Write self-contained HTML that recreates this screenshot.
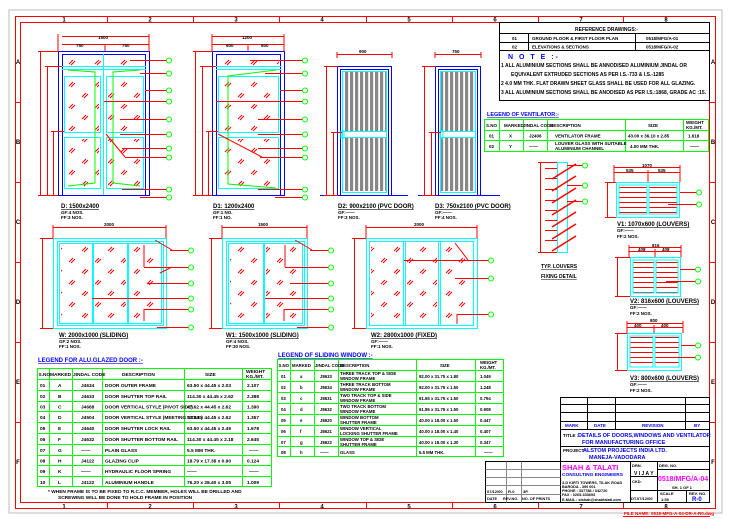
<!DOCTYPE html>
<html><head><meta charset="utf-8"><style>
html,body{margin:0;padding:0;background:#fff;width:732px;height:519px;overflow:hidden}
svg{display:block}
text{font-family:"Liberation Sans",sans-serif;font-weight:bold}
</style></head><body>
<svg width="732" height="519" viewBox="0 0 732 519" xmlns="http://www.w3.org/2000/svg">
<defs>
<pattern id="gl" patternUnits="userSpaceOnUse" width="26" height="22">
<path d="M4 9 L8 5 M6 10 L10 6" stroke="#f00" stroke-width="1"/>
<path d="M17 20 L21 16 M19 21 L23 17" stroke="#f00" stroke-width="1"/>
</pattern>
<pattern id="lv" patternUnits="userSpaceOnUse" width="5" height="10">
<rect x="0" y="0" width="3.2" height="10" fill="#888"/>
</pattern>
<pattern id="hl" patternUnits="userSpaceOnUse" width="10" height="5">
<rect x="0" y="2" width="10" height="1" fill="#f00"/>
</pattern>
</defs>

<rect x="9" y="10" width="713" height="503" fill="none" stroke="#bbb" stroke-width="1"/>
<rect x="15.5" y="16.5" width="700" height="492" fill="none" stroke="#f00" stroke-width="1"/>
<rect x="20.5" y="22.5" width="689" height="480" fill="none" stroke="#f00" stroke-width="1"/>
<g stroke="#f00" stroke-width="1">
<path d="M107.5 16V22 M193.5 16V22 M279.5 16V22 M366.5 16V22 M452.5 16V22 M538.5 16V22 M623.5 16V22"/>
<path d="M107.5 503V509 M193.5 503V509 M279.5 503V509 M366.5 503V509 M452.5 503V509 M538.5 503V509 M623.5 503V509"/>
<path d="M15 102.5H20 M15 182.5H20 M15 262.5H20 M15 342.5H20 M15 422.5H20"/>
<path d="M710 102.5H716 M710 182.5H716 M710 262.5H716 M710 342.5H716 M710 422.5H716"/>
</g>
<g font-size="6" fill="#000" text-anchor="middle">
<text x="64" y="21.5">1</text><text x="150" y="21.5">2</text><text x="236" y="21.5">3</text><text x="322" y="21.5">4</text><text x="409" y="21.5">5</text><text x="495" y="21.5">6</text><text x="581" y="21.5">7</text><text x="666" y="21.5">8</text>
<text x="64" y="508.5">1</text><text x="150" y="508.5">2</text><text x="236" y="508.5">3</text><text x="322" y="508.5">4</text><text x="409" y="508.5">5</text><text x="495" y="508.5">6</text><text x="581" y="508.5">7</text><text x="666" y="508.5">8</text>
<text x="18" y="64">A</text><text x="18" y="144">B</text><text x="18" y="224">C</text><text x="18" y="304">D</text><text x="18" y="384">E</text><text x="18" y="464">F</text>
<text x="713" y="64">A</text><text x="713" y="144">B</text><text x="713" y="224">C</text><text x="713" y="304">D</text><text x="713" y="384">E</text><text x="713" y="464">F</text>
</g>

<g stroke="#000" stroke-width="1" fill="none">
<rect x="499.5" y="22.5" width="210" height="78"/>
<path d="M499.5 33.5H709.5 M499.5 42.5H709.5 M499.5 50.5H709.5 M528.5 33.5V50.5 M635.5 33.5V50.5"/>
</g>
<g fill="#000" font-size="4.5">
<text x="575" y="31" font-size="5">REFERENCE DRAWINGS:-</text>
<text x="512" y="40">01</text><text x="532" y="40">GROUND FLOOR &amp; FIRST FLOOR PLAN</text><text x="646" y="40">0518/MFG/A-01</text>
<text x="512" y="48.5">02</text><text x="532" y="48.5">ELEVATIONS &amp; SECTIONS</text><text x="646" y="48.5">0518/MFG/A-02</text>
<text x="508" y="59" fill="#00f" font-size="7" letter-spacing="2">N O T E :-</text>
<text x="501" y="67" font-size="5">1   ALL ALUMINIUM SECTIONS SHALL BE ANNODISED ALUMINIUM JINDAL OR</text>
<text x="511" y="76" font-size="5">EQUIVALENT EXTRUDED SECTIONS AS PER I.S.-733 &amp; I.S.-1285</text>
<text x="501" y="85" font-size="5">2   4.0 MM THK. FLAT DRAWN SHEET GLASS SHALL BE USED FOR ALL GLAZING.</text>
<text x="501" y="94" font-size="5">3   ALL ALUMINIUM SECTIONS SHALL BE ANODISED AS PER I.S.:1868, GRADE AC :15.</text>
</g>

<text x="487" y="116" fill="#00f" font-size="5.5" text-decoration="underline">LEGEND OF VENTILATOR:-</text>
<g stroke="#0f0" stroke-width="1" fill="none">
<rect x="484.5" y="119.5" width="224" height="32"/>
<path d="M484.5 130.5H708.5 M484.5 140.5H708.5 M499.5 119.5V151.5 M523.5 119.5V151.5 M547.5 119.5V151.5 M625.5 119.5V151.5 M683.5 119.5V151.5"/>
</g>
<g fill="#000" font-size="4.5">
<text x="486" y="127">S.NO</text><text x="504" y="127">MARKED</text><text x="523" y="127">JINDAL CODE</text><text x="550" y="127">DESCRIPTION</text><text x="648" y="127">SIZE</text><text x="686" y="124">WEIGHT</text><text x="686" y="129">KG./MT.</text>
<text x="489" y="137.5">01</text><text x="509" y="137.5">X</text><text x="529" y="137.5">J2406</text><text x="555" y="137.5">VENTILATOR FRAME</text><text x="628" y="137.5">43.00 x 36.10 x 2.85</text><text x="688" y="137.5">1.618</text>
<text x="489" y="148">02</text><text x="509" y="148">Y</text><text x="529" y="148">——</text><text x="555" y="145">LOUVER GLASS WITH SUITABLE</text><text x="555" y="150">ALUMINIUM CHANNEL</text><text x="630" y="148">4.00 MM THK.</text><text x="690" y="148">——</text>
</g>

<!-- DOOR D -->
<g fill="none" stroke-width="1">
<rect x="58.5" y="51.5" width="91" height="144" stroke="#00f"/>
<rect x="62.5" y="54.5" width="83" height="141" stroke="#00f"/>
<path d="M62 66.5H146 M62 69.5H146 M103.5 54V195" stroke="#0ff"/>
<rect x="64.5" y="76.5" width="36" height="56" stroke="#0ff"/>
<rect x="64.5" y="137.5" width="36" height="51" stroke="#0ff"/>
<rect x="106.5" y="76.5" width="37" height="56" stroke="#0ff"/>
<rect x="106.5" y="137.5" width="37" height="51" stroke="#0ff"/>
<rect x="64" y="56" width="80" height="10" fill="url(#gl)" stroke="none"/>
<rect x="66" y="78" width="33" height="53" fill="url(#gl)" stroke="none"/>
<rect x="66" y="139" width="33" height="48" fill="url(#gl)" stroke="none"/>
<rect x="108" y="78" width="34" height="53" fill="url(#gl)" stroke="none"/>
<rect x="108" y="139" width="34" height="48" fill="url(#gl)" stroke="none"/>
<path d="M68 70 L95 72 L95 183 L68 186 M140 70 L113 72 L113 183 L140 186" stroke="#0f0"/>
<path d="M62 36.5H149 M62 44.5H149 M105 44V51 M58 34V52 M149 34V52" stroke="#f00"/>
<path d="M40.5 51V195 M47.5 66V195 M53.5 131V195 M38 51.5H58 M45 66.5H62 M51 131.5H64 M38 195.5H58" stroke="#f00"/>
<path d="M130 60.5H167 M140 73.5H167 M145 90.5H167 M104 101.5H167 M120 119.5H167 M120 134.5H167 M122 148.5H167 M125 157.5H167 M122 189.5H167 M140 197.5H167 M106 134 L125 157" stroke="#f00"/>
</g>
<g fill="#fff" stroke="#0f0" stroke-width="1">
<circle cx="169" cy="60.5" r="2.5"/><circle cx="169" cy="73.5" r="2.5"/><circle cx="169" cy="90.5" r="2.5"/><circle cx="169" cy="101.5" r="2.5"/><circle cx="169" cy="119.5" r="2.5"/><circle cx="169" cy="134.5" r="2.5"/><circle cx="169" cy="148.5" r="2.5"/><circle cx="169" cy="157.5" r="2.5"/><circle cx="169" cy="189.5" r="2.5"/><circle cx="169" cy="197.5" r="2.5"/>
</g>
<g font-size="4.5" fill="#000">
<text x="98" y="39">1500</text><text x="76" y="47">750</text><text x="122" y="47">750</text>
<text x="61" y="208" font-size="6" text-decoration="underline">D: 1500x2400</text>
<text x="61" y="214">GF:4 NOS.</text><text x="61" y="219">FF:3 NOS.</text>
</g>

<!-- DOOR D1 -->
<g fill="none" stroke-width="1">
<rect x="212.5" y="51.5" width="72" height="144" stroke="#00f"/>
<rect x="216.5" y="54.5" width="64" height="141" stroke="#00f"/>
<path d="M216 66.5H281 M216 69.5H281" stroke="#0ff"/>
<rect x="218.5" y="76.5" width="60" height="56" stroke="#0ff"/>
<rect x="218.5" y="137.5" width="60" height="51" stroke="#0ff"/>
<rect x="218" y="56" width="61" height="10" fill="url(#gl)" stroke="none"/>
<rect x="220" y="78" width="57" height="53" fill="url(#gl)" stroke="none"/>
<rect x="220" y="139" width="57" height="48" fill="url(#gl)" stroke="none"/>
<path d="M276 70 L228 76 L228 184 L276 188" stroke="#0f0"/>
<path d="M212 36.5H284 M212 44.5H284 M248 44V51 M212 34V52 M284 34V52" stroke="#f00"/>
<path d="M195.5 51V195 M202.5 66V195 M208.5 131V195 M193 51.5H212 M200 66.5H216 M206 131.5H218 M193 195.5H212" stroke="#f00"/>
<path d="M250 60.5H304 M265 73.5H304 M280 90.5H304 M216 101.5H304 M258 119.5H304 M258 134.5H304 M258 148.5H304 M260 157.5H304 M258 189.5H304 M275 197.5H304 M218 134 L262 157" stroke="#f00"/>
</g>
<g fill="#fff" stroke="#0f0" stroke-width="1">
<circle cx="305" cy="60.5" r="2.5"/><circle cx="305" cy="73.5" r="2.5"/><circle cx="305" cy="90.5" r="2.5"/><circle cx="305" cy="101.5" r="2.5"/><circle cx="305" cy="119.5" r="2.5"/><circle cx="305" cy="134.5" r="2.5"/><circle cx="305" cy="148.5" r="2.5"/><circle cx="305" cy="157.5" r="2.5"/><circle cx="305" cy="189.5" r="2.5"/><circle cx="305" cy="197.5" r="2.5"/>
</g>
<g font-size="4.5" fill="#000">
<text x="242" y="39">1200</text><text x="226" y="47">600</text><text x="261" y="47">600</text>
<text x="213" y="208" font-size="6" text-decoration="underline">D1: 1200x2400</text>
<text x="213" y="214">GF:1 NO.</text><text x="213" y="219">FF:1 NO.</text>
</g>

<!-- DOOR D2 PVC -->
<g fill="none" stroke-width="1">
<path d="M320 195.5H408" stroke="#00f"/>
<rect x="337.5" y="66.5" width="54" height="129" stroke="#00f"/>
<rect x="340.5" y="69.5" width="48" height="126" stroke="#00f"/>
<rect x="343" y="72" width="43" height="59" fill="url(#lv)" stroke="none"/>
<rect x="343" y="138" width="43" height="53" fill="url(#lv)" stroke="none"/>
<rect x="342.5" y="71.5" width="44" height="121" stroke="#0ff"/>
<path d="M342 131.5H387 M342 137.5H387" stroke="#0ff"/>
<rect x="341" y="131" width="3" height="7" stroke="#0ff"/>
<path d="M337 54.5H392 M337 52V58 M392 52V58" stroke="#f00"/>
<path d="M326.5 66V195 M333.5 132V195 M324 66.5H338 M331 132.5H342 M324 195.5H338" stroke="#f00"/>
</g>
<g font-size="4.5" fill="#000">
<text x="359" y="53">900</text>
<text x="338" y="208" font-size="6" text-decoration="underline">D2: 900x2100 (PVC DOOR)</text>
<text x="338" y="214">GF:——</text><text x="338" y="219">FF:3 NOS.</text>
</g>

<!-- DOOR D3 PVC -->
<g fill="none" stroke-width="1">
<path d="M418 195.5H500" stroke="#00f"/>
<rect x="435.5" y="66.5" width="45" height="129" stroke="#00f"/>
<rect x="438.5" y="69.5" width="39" height="126" stroke="#00f"/>
<rect x="441" y="72" width="34" height="59" fill="url(#lv)" stroke="none"/>
<rect x="441" y="138" width="34" height="53" fill="url(#lv)" stroke="none"/>
<rect x="440.5" y="71.5" width="35" height="121" stroke="#0ff"/>
<path d="M440 131.5H476 M440 137.5H476" stroke="#0ff"/>
<rect x="440" y="131" width="3" height="7" stroke="#0ff"/>
<path d="M435 54.5H481 M435 52V58 M481 52V58" stroke="#f00"/>
<path d="M424.5 66V195 M431.5 132V195 M422 66.5H436 M429 132.5H441 M422 195.5H436" stroke="#f00"/>
</g>
<g font-size="4.5" fill="#000">
<text x="452" y="53">750</text>
<text x="435" y="208" font-size="6" text-decoration="underline">D3: 750x2100 (PVC DOOR)</text>
<text x="435" y="214">GF:——</text><text x="435" y="219">FF:4 NOS.</text>
</g>

<!-- Windows -->
<g fill="none" stroke-width="1">
<rect x="53.5" y="238.5" width="113" height="90" stroke="#0ff"/>
<rect x="57.5" y="241.5" width="106" height="84" stroke="#0ff"/>
<rect x="59.5" y="243.5" width="33" height="80" stroke="#0ff"/>
<rect x="93.5" y="243.5" width="34" height="80" stroke="#0ff"/>
<rect x="128.5" y="243.5" width="33" height="80" stroke="#0ff"/>
<rect x="61" y="245" width="30" height="77" fill="url(#gl)" stroke="none"/>
<rect x="95" y="245" width="31" height="77" fill="url(#gl)" stroke="none"/>
<rect x="130" y="245" width="30" height="77" fill="url(#gl)" stroke="none"/>
<path d="M53 227.5H166 M53 225V238 M166 225V238 M42.5 238V328 M40 238.5H53 M40 328.5H53" stroke="#f00"/>
<path d="M170 250.5H190 M144 245V267 M144 267.5H190 M148 283.5H190 M92 298.5H190 M144 309.5H190 M144 309V321 M157 327.5H190 M155 240 L172 250 M160 273 L172 267" stroke="#f00"/>
</g>
<g fill="#fff" stroke="#0f0"><circle cx="191" cy="250.5" r="2.5"/><circle cx="191" cy="267.5" r="2.5"/><circle cx="191" cy="283.5" r="2.5"/><circle cx="191" cy="298.5" r="2.5"/><circle cx="191" cy="309.5" r="2.5"/><circle cx="191" cy="327.5" r="2.5"/></g>
<g font-size="4.5" fill="#000">
<text x="104" y="226">2000</text>
<text x="59" y="337" font-size="6" text-decoration="underline">W: 2000x1000 (SLIDING)</text>
<text x="59" y="343">GF:2 NOS.</text><text x="59" y="348">FF:1 NOS.</text>
</g>

<g fill="none" stroke-width="1">
<rect x="222.5" y="238.5" width="85" height="90" stroke="#0ff"/>
<rect x="226.5" y="241.5" width="78" height="84" stroke="#0ff"/>
<rect x="228.5" y="243.5" width="35" height="80" stroke="#0ff"/>
<rect x="264.5" y="243.5" width="38" height="80" stroke="#0ff"/>
<rect x="230" y="245" width="32" height="77" fill="url(#gl)" stroke="none"/>
<rect x="266" y="245" width="35" height="77" fill="url(#gl)" stroke="none"/>
<path d="M222 227.5H307 M222 225V238 M307 225V238 M211.5 238V328 M209 238.5H222 M209 328.5H222" stroke="#f00"/>
<path d="M310 250.5H330 M285 245V267 M285 267.5H330 M290 283.5H330 M265 298.5H330 M284 309.5H330 M284 309V321 M297 327.5H330 M295 240 L312 250" stroke="#f00"/>
</g>
<g fill="#fff" stroke="#0f0"><circle cx="331" cy="250.5" r="2.5"/><circle cx="331" cy="267.5" r="2.5"/><circle cx="331" cy="283.5" r="2.5"/><circle cx="331" cy="298.5" r="2.5"/><circle cx="331" cy="309.5" r="2.5"/><circle cx="331" cy="327.5" r="2.5"/></g>
<g font-size="4.5" fill="#000">
<text x="258" y="226">1500</text>
<text x="226" y="337" font-size="6" text-decoration="underline">W1: 1500x1000 (SLIDING)</text>
<text x="226" y="343">GF:4 NOS.</text><text x="226" y="348">FF:30 NOS.</text>
</g>

<g fill="none" stroke-width="1">
<rect x="366.5" y="238.5" width="111" height="90" stroke="#0ff"/>
<rect x="369.5" y="241.5" width="104" height="84" stroke="#0ff"/>
<path d="M403.5 241V325 M405.5 241V325 M438.5 241V325 M440.5 241V325" stroke="#0ff"/>
<rect x="371" y="243" width="31" height="81" fill="url(#gl)" stroke="none"/>
<rect x="407" y="243" width="30" height="81" fill="url(#gl)" stroke="none"/>
<rect x="442" y="243" width="30" height="81" fill="url(#gl)" stroke="none"/>
<path d="M366 227.5H477 M366 225V238 M477 225V238 M354.5 238V328 M352 238.5H366 M352 328.5H366" stroke="#f00"/>
<path d="M404 260.5H490 M455 278.5H490 M457 314.5H490 M457 314V324 M455 243 L468 260" stroke="#f00"/>
</g>
<g fill="#fff" stroke="#0f0"><circle cx="491" cy="260.5" r="2.5"/><circle cx="491" cy="278.5" r="2.5"/><circle cx="491" cy="314.5" r="2.5"/></g>
<g font-size="4.5" fill="#000">
<text x="414" y="226">2000</text>
<text x="371" y="337" font-size="6" text-decoration="underline">W2: 2800x1000 (FIXED)</text>
<text x="371" y="343">GF:——</text><text x="371" y="348">FF:1 NOS.</text>
</g>

<!-- louver fixing detail -->
<g fill="none" stroke-width="1">
<rect x="557.5" y="162.5" width="10" height="90" stroke="#0ff"/>
<path d="M540.5 162V252 M538 162.5H557 M538 252.5H557" stroke="#f00"/>
<path d="M545 170L569 155 M545 182L569 167 M545 194L569 179 M545 206L569 191 M545 218L569 203 M545 230L569 215 M545 242L569 227" stroke="#f00" stroke-width="1.6" transform="translate(7,9)"/>
<path d="M545 168.5H557 M545 178.5H557 M545 189.5H557 M545 200.5H557 M545 210.5H557 M545 220.5H557 M545 230.5H557 M545 240.5H557" stroke="#f00"/>
<path d="M567 165.5H583 M567 185.5H583 M567 201.5H583" stroke="#f00"/>
</g>
<g fill="#fff" stroke="#0f0"><circle cx="585" cy="165.5" r="2.5"/><circle cx="585" cy="185.5" r="2.5"/><circle cx="585" cy="201.5" r="2.5"/></g>
<g font-size="5" fill="#000"><text x="541" y="268" text-decoration="underline">TYP. LOUVERS</text><text x="541" y="278" text-decoration="underline">FIXING DETAIL</text></g>

<!-- V1 -->
<g fill="none" stroke-width="1">
<rect x="616.5" y="182.5" width="63" height="35" stroke="#0ff"/>
<rect x="619" y="185" width="28" height="29" fill="url(#hl)" stroke="#0ff"/>
<rect x="649" y="185" width="28" height="29" fill="url(#hl)" stroke="#0ff"/>
<path d="M614 167.5H680 M614 172.5H680 M648 170V182 M614 165V182 M680 165V182 M607.5 182V217 M605 182.5H616 M605 217.5H616" stroke="#f00"/>
<path d="M680 192.5H698 M668 204.5H698" stroke="#f00"/>
</g>
<g fill="#fff" stroke="#0f0"><circle cx="699" cy="192.5" r="2.5"/><circle cx="699" cy="204.5" r="2.5"/></g>
<g font-size="4.5" fill="#000"><text x="642" y="167">1070</text><text x="626" y="172">535</text><text x="658" y="172">535</text>
<text x="617" y="226" font-size="6" text-decoration="underline">V1: 1070x600 (LOUVERS)</text><text x="617" y="232">GF:——</text><text x="617" y="238">FF:2 NOS.</text></g>

<!-- V2 -->
<g fill="none" stroke-width="1">
<rect x="630.5" y="257.5" width="50" height="39" stroke="#0ff"/>
<rect x="633" y="260" width="21" height="33" fill="url(#hl)" stroke="#0ff"/>
<rect x="656" y="260" width="22" height="33" fill="url(#hl)" stroke="#0ff"/>
<path d="M629 247.5H681 M629 251.5H681 M655 249V257 M629 245V257 M681 245V257 M617.5 257V296 M615 257.5H630 M615 296.5H630" stroke="#f00"/>
<path d="M680 269.5H697 M666 281.5H697" stroke="#f00"/>
</g>
<g fill="#fff" stroke="#0f0"><circle cx="698" cy="269.5" r="2.5"/><circle cx="698" cy="281.5" r="2.5"/></g>
<g font-size="4.5" fill="#000"><text x="652" y="247">816</text><text x="638" y="251">408</text><text x="662" y="251">408</text>
<text x="630" y="303" font-size="6" text-decoration="underline">V2: 816x600 (LOUVERS)</text><text x="630" y="309">GF:——</text><text x="630" y="315">FF:2 NOS.</text></g>

<!-- V3 -->
<g fill="none" stroke-width="1">
<rect x="627.5" y="333.5" width="54" height="37" stroke="#0ff"/>
<rect x="630" y="336" width="23" height="31" fill="url(#hl)" stroke="#0ff"/>
<rect x="655" y="336" width="24" height="31" fill="url(#hl)" stroke="#0ff"/>
<path d="M627 323.5H683 M627 327.5H683 M654 325V333 M627 321V333 M683 321V333 M617.5 333V370 M615 333.5H627 M615 370.5H627" stroke="#f00"/>
<path d="M681 345.5H697 M668 357.5H697" stroke="#f00"/>
</g>
<g fill="#fff" stroke="#0f0"><circle cx="698" cy="345.5" r="2.5"/><circle cx="698" cy="357.5" r="2.5"/></g>
<g font-size="4.5" fill="#000"><text x="650" y="322">800</text><text x="634" y="327">400</text><text x="661" y="327">400</text>
<text x="630" y="380" font-size="6" text-decoration="underline">V3: 800x600 (LOUVERS)</text><text x="630" y="386">GF:——</text><text x="630" y="392">FF:2 NOS.</text></g>

<!-- Alu door legend -->
<text x="38" y="362" fill="#00f" font-size="6" text-decoration="underline">LEGEND FOR ALU.GLAZED DOOR :-</text>
<g stroke="#0f0" stroke-width="1" fill="none">
<rect x="37.5" y="368.5" width="234" height="118"/>
<path d="M37.5 379.5H271.5 M37.5 390.5H271.5 M37.5 401.5H271.5 M37.5 411.5H271.5 M37.5 422.5H271.5 M37.5 433.5H271.5 M37.5 444.5H271.5 M37.5 455.5H271.5 M37.5 465.5H271.5 M37.5 476.5H271.5"/>
<path d="M49.5 368.5V486.5 M72.5 368.5V486.5 M102.5 368.5V486.5 M184.5 368.5V486.5 M242.5 368.5V486.5"/>
</g>
<g fill="#000" font-size="4.8">
<text x="38.5" y="376">S.NO</text><text x="50" y="376">MARKED</text><text x="73" y="376">JINDAL CODE</text><text x="122" y="376">DESCRIPTION</text><text x="205" y="376">SIZE</text><text x="246" y="373">WEIGHT</text><text x="246" y="378">KG./MT.</text>
<text x="40" y="387">01</text><text x="58" y="387">A</text><text x="81" y="387">J4634</text><text x="105" y="387">DOOR OUTER FRAME</text><text x="187" y="387">63.50 x 44.45 x 2.03</text><text x="247" y="387">2.107</text>
<text x="40" y="398">02</text><text x="58" y="398">B</text><text x="81" y="398">J4633</text><text x="105" y="398">DOOR SHUTTER TOP RAIL</text><text x="187" y="398">114.30 x 44.45 x 2.62</text><text x="247" y="398">2.388</text>
<text x="40" y="408.5">03</text><text x="58" y="408.5">C</text><text x="81" y="408.5">J4668</text><text x="105" y="408.5">DOOR VERTICAL STYLE (PIVOT SIDE)</text><text x="187" y="408.5">47.62 x 44.45 x 2.62</text><text x="247" y="408.5">1.390</text>
<text x="40" y="419">04</text><text x="58" y="419">D</text><text x="81" y="419">J4504</text><text x="105" y="419">DOOR VERTICAL STYLE (MEETING STILE)</text><text x="187" y="419">53.98 x 44.45 x 2.62</text><text x="247" y="419">1.357</text>
<text x="40" y="430">05</text><text x="58" y="430">E</text><text x="81" y="430">J4640</text><text x="105" y="430">DOOR SHUTTER LOCK RAIL</text><text x="187" y="430">63.50 x 44.45 x 2.49</text><text x="247" y="430">1.678</text>
<text x="40" y="441">06</text><text x="58" y="441">F</text><text x="81" y="441">J4632</text><text x="105" y="441">DOOR SHUTTER BOTTOM RAIL</text><text x="187" y="441">114.30 x 44.45 x 2.18</text><text x="247" y="441">2.645</text>
<text x="40" y="452">07</text><text x="58" y="452">G</text><text x="81" y="452">——</text><text x="105" y="452">PLAIN GLASS</text><text x="187" y="452">5.5 MM THK.</text><text x="249" y="452">——</text>
<text x="40" y="462.5">08</text><text x="58" y="462.5">H</text><text x="81" y="462.5">J4122</text><text x="105" y="462.5">GLAZING CLIP</text><text x="187" y="462.5">18.79 x 17.38 x 0.90</text><text x="247" y="462.5">0.124</text>
<text x="40" y="473">09</text><text x="58" y="473">K</text><text x="81" y="473">——</text><text x="105" y="473">HYDRAULIC FLOOR SPRING</text><text x="187" y="473">——</text><text x="249" y="473">——</text>
<text x="40" y="484">10</text><text x="58" y="484">L</text><text x="81" y="484">J4122</text><text x="105" y="484">ALUMINIUM HANDLE</text><text x="187" y="484">76.20 x 28.40 x 3.05</text><text x="247" y="484">1.009</text>
<text x="48" y="493">* WHEN FRAME IS TO BE FIXED TO R.C.C. MEMBER, HOLES WILL BE DRILLED AND</text>
<text x="58" y="499">SCREWING WILL BE DONE TO HOLD FRAME IN POSITION</text>
</g>

<!-- Sliding window legend -->
<text x="278" y="357" fill="#00f" font-size="6" text-decoration="underline">LEGEND OF SLIDING WINDOW :-</text>
<g stroke="#0f0" stroke-width="1" fill="none">
<rect x="277.5" y="359.5" width="226" height="97"/>
<path d="M277.5 370.5H503.5 M277.5 381.5H503.5 M277.5 392.5H503.5 M277.5 403.5H503.5 M277.5 414.5H503.5 M277.5 425.5H503.5 M277.5 436.5H503.5 M277.5 446.5H503.5"/>
<path d="M290.5 359.5V456.5 M314.5 359.5V456.5 M338.5 359.5V456.5 M416.5 359.5V456.5 M475.5 359.5V456.5"/>
</g>
<g fill="#000" font-size="4.3">
<text x="278.5" y="367">S.NO</text><text x="292" y="367">MARKED</text><text x="315" y="367">JINDAL CODE</text><text x="340" y="367">DESCRIPTION</text><text x="440" y="367">SIZE</text><text x="480" y="364">WEIGHT</text><text x="480" y="369">KG./MT.</text>
<text x="281" y="378">01</text><text x="300" y="378">a</text><text x="320" y="378">J8633</text><text x="340" y="375">THREE TRACK TOP &amp; SIDE</text><text x="340" y="380">WINDOW FRAME</text><text x="419" y="378">92.00 x 31.75 x 1.80</text><text x="480" y="378">1.049</text>
<text x="281" y="389">02</text><text x="300" y="389">b</text><text x="320" y="389">J8634</text><text x="340" y="386">THREE TRACK BOTTOM</text><text x="340" y="391">WINDOW FRAME</text><text x="419" y="389">92.00 x 31.75 x 1.50</text><text x="480" y="389">1.248</text>
<text x="281" y="400">03</text><text x="300" y="400">c</text><text x="320" y="400">J8631</text><text x="340" y="397">TWO TRACK TOP &amp; SIDE</text><text x="340" y="402">WINDOW FRAME</text><text x="419" y="400">61.65 x 31.75 x 1.50</text><text x="480" y="400">0.794</text>
<text x="281" y="411">04</text><text x="300" y="411">d</text><text x="320" y="411">J8632</text><text x="340" y="408">TWO TRACK BOTTOM</text><text x="340" y="413">WINDOW FRAME</text><text x="419" y="411">61.86 x 31.75 x 1.50</text><text x="480" y="411">0.908</text>
<text x="281" y="422">05</text><text x="300" y="422">e</text><text x="320" y="422">J8620</text><text x="340" y="419">WINDOW BOTTOM</text><text x="340" y="424">SHUTTER FRAME</text><text x="419" y="422">40.00 x 18.00 x 1.50</text><text x="480" y="422">0.447</text>
<text x="281" y="433">06</text><text x="300" y="433">f</text><text x="320" y="433">J8621</text><text x="340" y="430">WINDOW VERTICAL</text><text x="340" y="435">LOCKING SHUTTER FRAME</text><text x="419" y="433">40.00 x 18.00 x 1.40</text><text x="480" y="433">0.407</text>
<text x="281" y="444">07</text><text x="300" y="444">g</text><text x="320" y="444">J8622</text><text x="340" y="441">WINDOW TOP &amp; SIDE</text><text x="340" y="446">SHUTTER FRAME</text><text x="419" y="444">40.00 x 18.00 x 1.30</text><text x="480" y="444">0.347</text>
<text x="281" y="454">08</text><text x="300" y="454">h</text><text x="320" y="454">——</text><text x="340" y="454">GLASS</text><text x="419" y="454">5.5 MM THK.</text><text x="484" y="454">——</text>
</g>

<!-- Title block -->
<g stroke="#000" stroke-width="1" fill="none">
<rect x="560.5" y="397.5" width="149" height="105"/>
<path d="M560.5 404.5H709.5 M560.5 412.5H709.5 M560.5 421.5H709.5 M560.5 429.5H709.5 M560.5 446.5H709.5 M560.5 461.5H709.5"/>
<path d="M587.5 397.5V429.5 M615.5 397.5V429.5 M685.5 397.5V429.5"/>
<rect x="485.5" y="461.5" width="75" height="41"/>
<path d="M630.5 461.5V502.5 M657.5 461.5V502.5 M657.5 469.5H709.5 M630.5 490.5H709.5 M686.5 490.5V502.5 M657.5 490.5V502.5 M630.5 476.5H657.5"/>
</g>
<g stroke="#888" stroke-width="1" fill="none">
<path d="M485.5 469.5H560.5 M485.5 477.5H560.5 M485.5 485.5H560.5 M485.5 494.5H560.5 M506.5 461.5V502.5 M521.5 461.5V502.5"/>
</g>
<g fill="#000" font-size="4.5">
<text x="565" y="427" fill="#00f">MARK</text><text x="594" y="427" fill="#00f">DATE</text><text x="642" y="427" fill="#00f">REVISION</text><text x="694" y="427" fill="#00f">BY</text>
<text x="563" y="437">TITLE :-</text><text x="578" y="437" fill="#00f" font-size="5.5">DETAILS OF DOORS,WINDOWS AND VENTILATOR</text>
<text x="582" y="444" fill="#00f" font-size="5.5">FOR MANUFACTURING OFFICE</text>
<text x="563" y="452">PROJECT :-</text><text x="583" y="452" fill="#00f" font-size="5.5">ALSTOM PROJECTS INDIA LTD.</text>
<text x="589" y="459" fill="#00f" font-size="5.5">MANEJA-VADODARA</text>
<text x="562" y="470" fill="#f0f" font-size="7.5" font-weight="normal">SHAH &amp; TALATI</text>
<text x="562" y="476" fill="#00f" font-size="4.8">CONSULTING ENGINEERS</text>
<text x="562" y="484" font-size="3.8">3-D KIRTI TOWERS, TILAK ROAD</text>
<text x="562" y="488" font-size="3.8">BARODA - 390 001</text>
<text x="562" y="492" font-size="3.8">PHONE : 337788 / 342720</text>
<text x="562" y="496" font-size="3.8">FAX : 0265-333693</text>
<text x="562" y="501" font-size="3.8">E-MAIL : stshah@shahtalati.com</text>
<text x="632" y="467" font-size="4">DRN.</text><text x="634" y="475" font-size="5" font-weight="normal">V I J A Y</text>
<text x="632" y="483" font-size="4">CKD.</text>
<text x="631" y="500" font-size="4">DT.07/12/00</text>
<text x="659" y="467" font-size="4">DRG. NO.</text>
<text x="658" y="481" fill="#f0f" font-size="7" font-weight="normal">0518/MFG/A-04</text>
<text x="672" y="489" font-size="4">SH. 1 OF 1</text>
<text x="660" y="495" font-size="4">SCALE</text><text x="661" y="501" font-size="4">1:50</text>
<text x="689" y="495" font-size="4">REV. NO.</text><text x="692" y="501" fill="#00f" font-size="6" font-weight="normal">R-0</text>
<text x="487" y="493" font-size="4">07/12/00</text><text x="508" y="493" font-size="4">R-0</text><text x="523" y="493" font-size="4">3P.</text>
<text x="487" y="500" font-size="3.8">DATE</text><text x="503" y="500" font-size="3.8">REV.NO.</text><text x="522" y="500" font-size="3.8">NO. OF PRINTS</text>
</g>
<path d="M623 516.5H710" stroke="#f00" stroke-width="1"/>
<text x="624" y="515" fill="#f00" font-size="4.5">FILE NAME: 0518-MFG-A-04-DR-A-R0.dwg</text>
</svg>
</body></html>
